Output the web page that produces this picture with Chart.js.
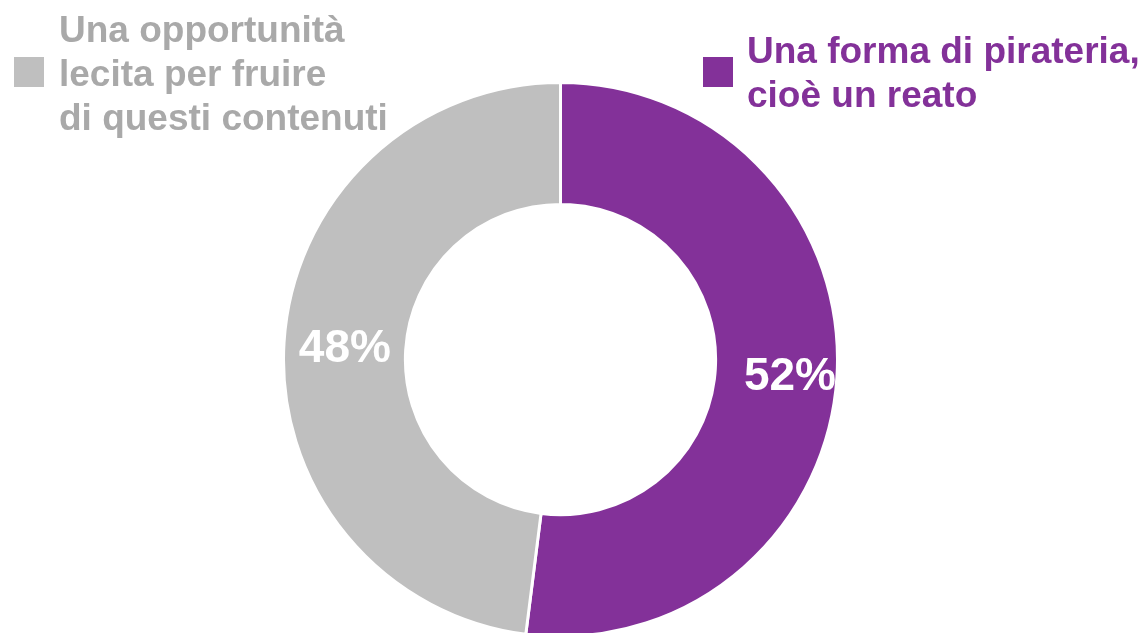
<!DOCTYPE html>
<html>
<head>
<meta charset="utf-8">
<script src="https://cdn.jsdelivr.net/npm/chart.js@4.4.1/dist/chart.umd.min.js"></script>
<style>
  html, body { margin: 0; padding: 0; width: 1147px; height: 633px; overflow: hidden; background: #ffffff; }
  #wrap { position: absolute; left: 282px; top: 81px; width: 557px; height: 557px; }
  .legend { position: absolute; font-family: "Liberation Sans", Arial, sans-serif; font-weight: bold; font-size: 37px; line-height: 44px; }
  .legend .sw { position: absolute; width: 30px; height: 30px; }
  .legend .tx { position: absolute; white-space: nowrap; }
</style>
</head>
<body>
<div id="wrap"><canvas id="c"></canvas></div>
<div class="legend" id="legGray">
  <div class="sw" style="left:14px; top:57px; background:#BFBFBF;"></div>
  <div class="tx" style="left:59px; top:8px; color:#A9A9A9;">Una opportunità<br>lecita per fruire<br>di questi contenuti</div>
</div>
<div class="legend" id="legPurple">
  <div class="sw" style="left:703px; top:57px; background:#833199;"></div>
  <div class="tx" style="left:747px; top:29px; color:#833199;">Una forma di pirateria,<br>cioè un reato</div>
</div>
<script>
const categories = ["Una forma di pirateria, cioè un reato", "Una opportunità lecita per fruire di questi contenuti"];
const values = [52, 48];
const valueLabels = ["52%", "48%"];
const colors = ["#833199", "#BFBFBF"];

const labelPlugin = {
  id: 'sliceLabels',
  afterDatasetsDraw(chart, args, opts) {
    const ctx = chart.ctx;
    const meta = chart.getDatasetMeta(0);
    ctx.save();
    ctx.font = "bold 46px 'Liberation Sans', Arial, sans-serif";
    ctx.fillStyle = "#ffffff";
    ctx.textAlign = "center";
    ctx.textBaseline = "alphabetic";
    meta.data.forEach((arc, i) => {
      const p = arc.getProps(['x', 'y', 'startAngle', 'endAngle', 'outerRadius'], true);
      const mid = (p.startAngle + p.endAngle) / 2;
      const r = p.outerRadius * opts.radii[i];
      const cx = p.x + Math.cos(mid) * r;
      const cy = p.y + Math.sin(mid) * r;
      ctx.fillText(valueLabels[i], cx, cy + 16.5);
    });
    ctx.restore();
  }
};

new Chart(document.getElementById('c'), {
  type: 'doughnut',
  data: {
    labels: categories,
    datasets: [{
      data: values,
      backgroundColor: colors,
      borderColor: "#ffffff",
      borderWidth: 3,
      hoverOffset: 0
    }]
  },
  options: {
    responsive: true,
    maintainAspectRatio: false,
    animation: false,
    cutout: '56%',
    rotation: 0,
    layout: { padding: 0 },
    plugins: {
      legend: { display: false },
      tooltip: { enabled: false },
      sliceLabels: { radii: [0.83, 0.78] }
    }
  },
  plugins: [labelPlugin]
});
</script>
</body>
</html>
